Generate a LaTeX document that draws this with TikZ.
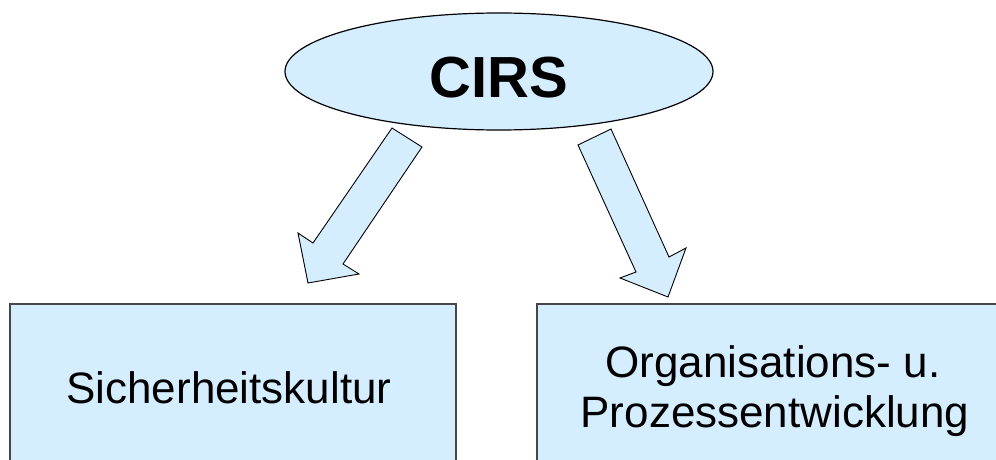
\documentclass[tikz,border=0pt]{standalone}
\usepackage{fontspec}
\setmainfont{Liberation Sans}
\usetikzlibrary{shapes.geometric}
\definecolor{lightfill}{RGB}{213,238,255}
\definecolor{boxline}{RGB}{70,70,70}
\begin{document}
\begin{tikzpicture}[x=1pt,y=-1pt,
  topell/.style={ellipse, draw=black, line width=1.2pt, fill=lightfill, inner sep=0pt, minimum width=428pt, minimum height=117pt},
  panel/.style={draw=boxline, line width=1.5pt, fill=lightfill},
  blockarrow/.style={draw=black, line width=0.9pt, fill=lightfill, line join=miter},
  lbl/.style={font=\fontsize{44}{50}\selectfont, inner sep=0pt, anchor=base}
]
\useasboundingbox (0,0) rectangle (996,460);
% boxes
\draw[panel] (10,304) rectangle (456,475);
\draw[panel] (537,304) rectangle (1012,475);
\coordinate (lbox) at (233,304);
\coordinate (rbox) at (774,304);
\node[lbl] (ltext) at (229,403) {Sicherheitskultur};
\node[lbl] (rtext1) at (773,377) {Organisations- u.};
\node[lbl] (rtext2) at (775,427) {Prozessentwicklung};
% arrows
\draw[blockarrow] (392,128) -- (422,147) -- (343,264) -- (359,274) -- (308,283) -- (298,233) -- (313,243) -- cycle;
\draw[blockarrow] (578,145) -- (611,129) -- (669,257) -- (686,248) -- (668,297) -- (620,278) -- (636,272) -- cycle;
% ellipse
\node[topell] (cirs) at (499,71.5) {};
\node[font=\bfseries\fontsize{58}{60}\selectfont, inner sep=0pt, anchor=base] (cirstext) at (498.5,97) {CIRS};
\end{tikzpicture}
\end{document}
